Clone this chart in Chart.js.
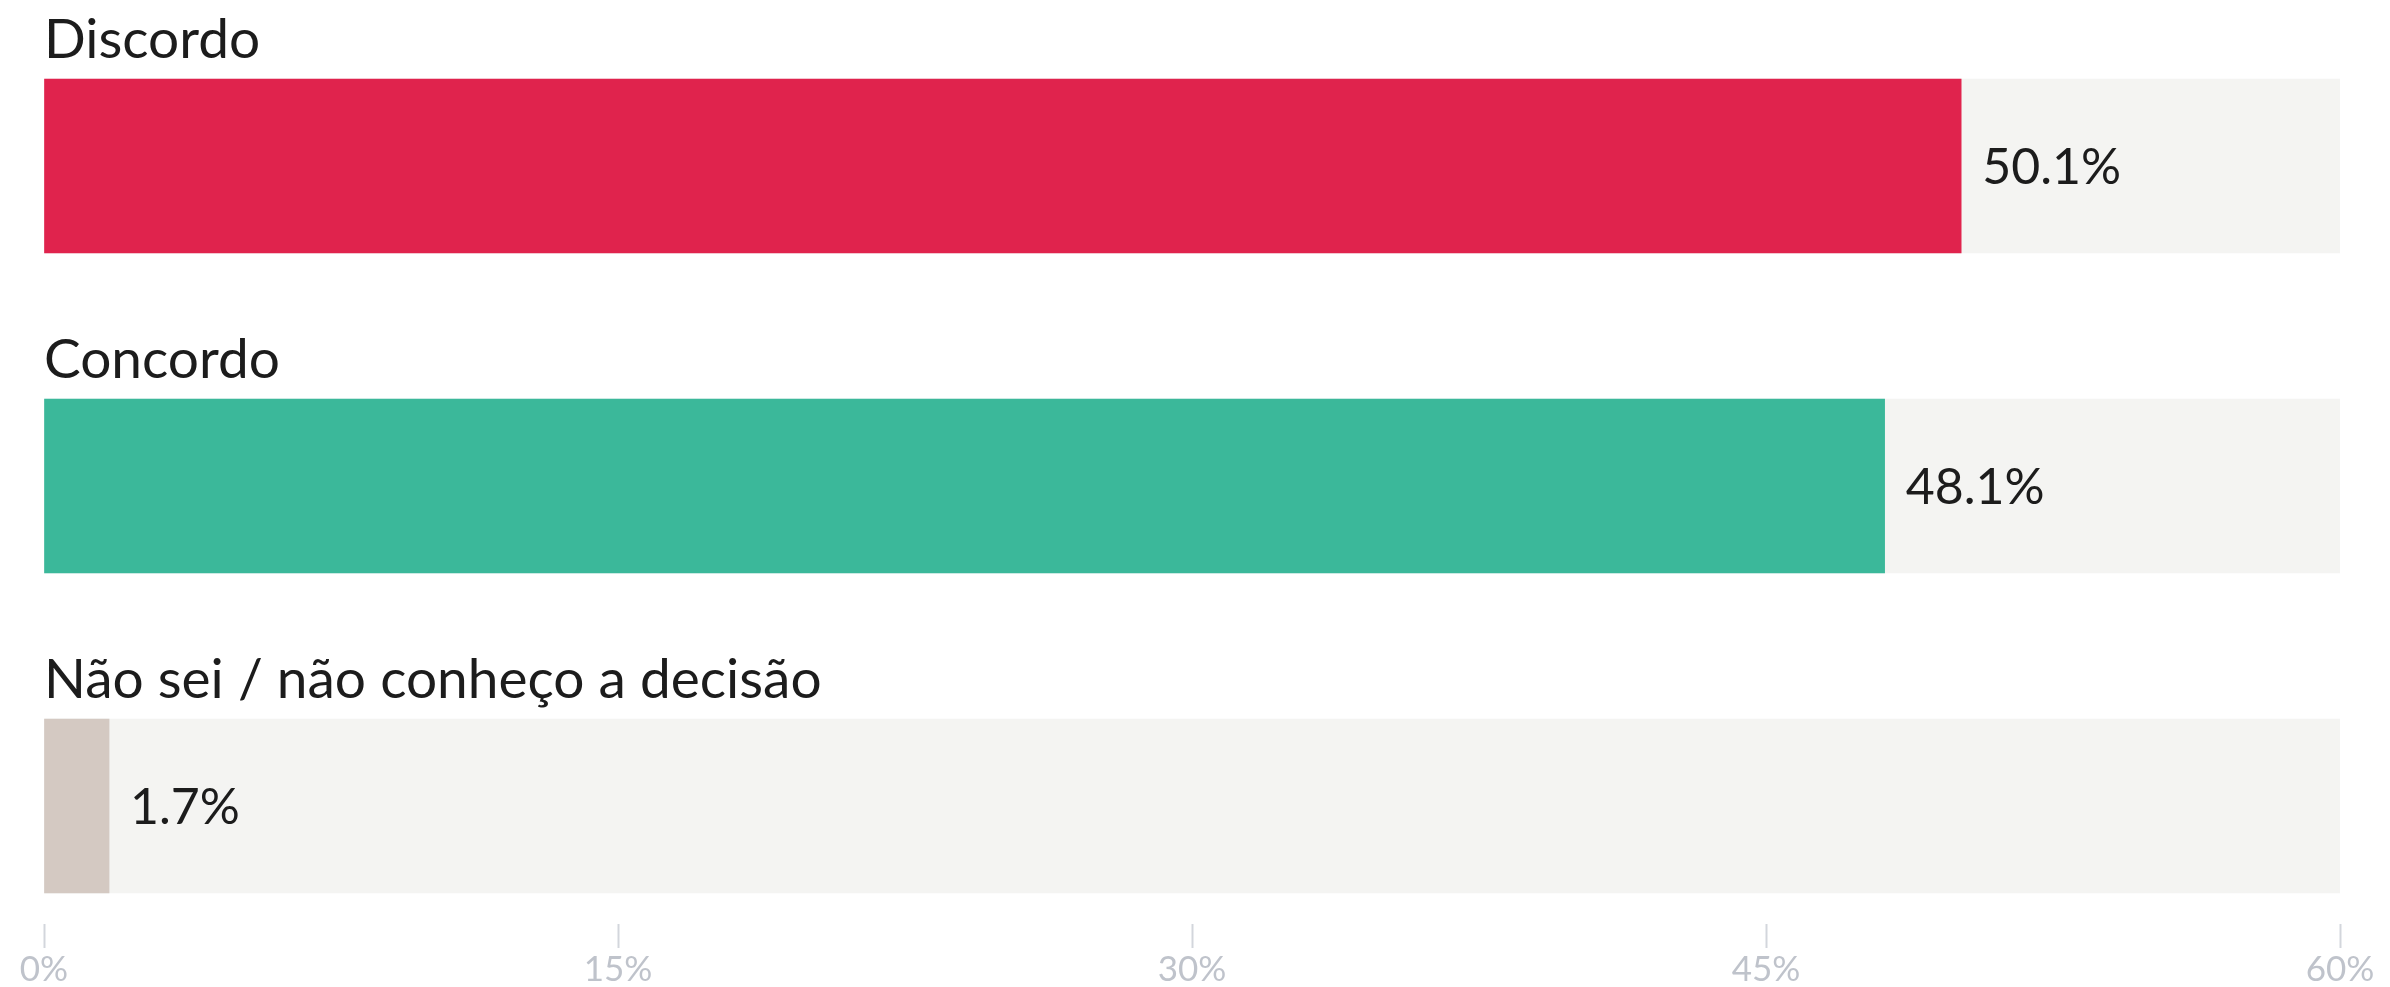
<!DOCTYPE html>
<html>
<head>
<meta charset="utf-8">
<script src="https://cdn.jsdelivr.net/npm/chart.js@4/dist/chart.umd.min.js"></script>
<style>
  html, body { margin: 0; padding: 0; background: #ffffff; }
  canvas { display: block; }
</style>
</head>
<body>
<canvas id="c" width="2390" height="987"></canvas>
<script>
// ---- data ----
const categories = ['Discordo', 'Concordo', 'Não sei / não conheço a decisão'];
const values = [50.1, 48.1, 1.7];
const valueLabels = ['50.1%', '48.1%', '1.7%'];
const trackValues = [60, 60, 60];
const positions = [0, 1, 2];
const tickValues = [0, 15, 30, 45, 60];
const barColors = ['#e0234d', '#3bb89a', '#d4c9c2'];

const Y_MIN = -0.51875;
const Y_MAX = 2.36875;

const labelPlugin = {
  id: 'labels',
  afterDatasetsDraw(chart) {
    const ctx = chart.ctx;
    const meta = chart.getDatasetMeta(1);
    ctx.save();
    ctx.fillStyle = '#1c1c1c';
    ctx.textAlign = 'left';
    ctx.textBaseline = 'alphabetic';
    meta.data.forEach((bar, i) => {
      const top = bar.y - bar.height / 2;
      ctx.font = '55px Lato';
      ctx.fillText(categories[i], chart.chartArea.left, top - 21);
      ctx.font = '50px Lato';
      ctx.fillText(valueLabels[i], bar.x + 21, bar.y + 18);
    });
    ctx.restore();
  }
};

new Chart(document.getElementById('c'), {
  type: 'bar',
  data: {
    datasets: [
      {
        label: 'track',
        data: positions.map((p, i) => ({ x: trackValues[i], y: p })),
        backgroundColor: '#f4f4f2',
        barThickness: 174,
        grouped: false,
        order: 2
      },
      {
        label: 'valor',
        data: positions.map((p, i) => ({ x: values[i], y: p })),
        backgroundColor: barColors,
        barThickness: 174,
        grouped: false,
        order: 1
      }
    ]
  },
  options: {
    indexAxis: 'y',
    responsive: false,
    animation: false,
    devicePixelRatio: 1,
    layout: { padding: { left: 44, right: 50, top: 0, bottom: 0 } },
    plugins: { legend: { display: false }, tooltip: { enabled: false } },
    scales: {
      y: {
        type: 'linear',
        display: false,
        reverse: true,
        bounds: 'data',
        offset: false,
        min: Y_MIN,
        max: Y_MAX,
        afterBuildTicks(scale) { scale.min = Y_MIN; scale.max = Y_MAX; }
      },
      x: {
        type: 'linear',
        min: 0,
        max: 60,
        afterBuildTicks(scale) { scale.ticks = tickValues.map(v => ({ value: v })); },
        afterFit(scale) { scale.height = 63; },
        border: { display: false },
        grid: {
          drawOnChartArea: false,
          drawTicks: true,
          tickLength: 24,
          tickWidth: 2,
          tickColor: '#d3d6dc'
        },
        ticks: {
          padding: 1,
          color: '#bfc3cb',
          font: { family: 'Lato', size: 35 },
          maxRotation: 0,
          callback: v => v + '%'
        }
      }
    }
  },
  plugins: [labelPlugin]
});
</script>
</body>
</html>
